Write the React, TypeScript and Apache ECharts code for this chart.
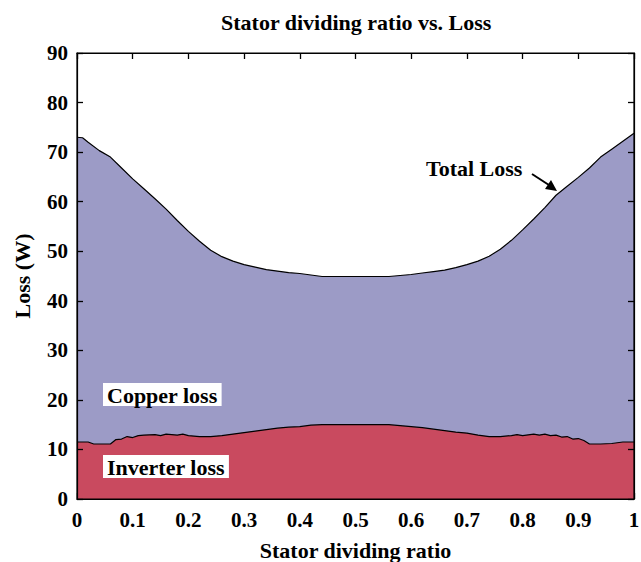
import React, { useEffect, useRef } from "react";
import * as echarts from "echarts";

const totalX = [0, 0.01, 0.02, 0.04, 0.06, 0.08, 0.1, 0.12, 0.14, 0.16, 0.18, 0.2, 0.22, 0.24, 0.26, 0.28, 0.3, 0.32, 0.34, 0.36, 0.38, 0.4, 0.42, 0.44, 0.5, 0.56, 0.58, 0.6, 0.62, 0.64, 0.66, 0.68, 0.7, 0.72, 0.74, 0.76, 0.78, 0.8, 0.82, 0.84, 0.86, 0.88, 0.9, 0.92, 0.94, 0.96, 0.98, 1];
const totalLoss = [73.0, 72.9, 72.0, 70.3, 69.0, 66.8, 64.6, 62.6, 60.6, 58.5, 56.2, 54.0, 52.0, 50.2, 48.9, 48.0, 47.3, 46.8, 46.3, 46.0, 45.7, 45.5, 45.2, 44.9, 44.9, 44.9, 45.1, 45.3, 45.6, 45.9, 46.2, 46.7, 47.3, 48.0, 49.0, 50.4, 52.2, 54.3, 56.5, 58.8, 61.3, 63.1, 64.9, 66.8, 69.0, 70.6, 72.2, 73.8];

const invX = [0, 0.02, 0.03, 0.04, 0.06, 0.07, 0.08, 0.09, 0.1, 0.11, 0.12, 0.14, 0.15, 0.16, 0.18, 0.19, 0.2, 0.22, 0.24, 0.26, 0.28, 0.3, 0.32, 0.34, 0.36, 0.38, 0.4, 0.42, 0.44, 0.5, 0.56, 0.58, 0.6, 0.62, 0.64, 0.66, 0.68, 0.7, 0.72, 0.74, 0.76, 0.78, 0.79, 0.8, 0.82, 0.83, 0.84, 0.85, 0.86, 0.87, 0.88, 0.89, 0.9, 0.91, 0.92, 0.94, 0.96, 0.98, 1];
const inverterLoss = [11.5, 11.5, 11.1, 11.1, 11.1, 12.0, 12.1, 12.6, 12.4, 12.8, 12.9, 13.0, 12.8, 13.1, 12.9, 13.1, 12.8, 12.6, 12.6, 12.8, 13.1, 13.4, 13.7, 14.0, 14.3, 14.5, 14.6, 14.9, 15.0, 15.0, 15.0, 14.8, 14.6, 14.4, 14.1, 13.8, 13.5, 13.3, 12.9, 12.6, 12.6, 12.8, 13.0, 12.8, 13.1, 12.9, 13.1, 12.8, 12.9, 12.5, 12.6, 12.1, 12.2, 11.8, 11.1, 11.1, 11.2, 11.5, 11.5];

const FONT = "'Liberation Serif', 'Times New Roman', serif";

export default function App() {
  const ref = useRef<HTMLDivElement>(null);
  useEffect(() => {
    if (!ref.current) return;
    const chart = echarts.init(ref.current, undefined, { renderer: "svg" });
    const tickLabel = () => ({ fontFamily: FONT, fontWeight: "bold", fontSize: 21, color: "#000" });
    const nameStyle = () => ({ fontFamily: FONT, fontWeight: "bold", fontSize: 22, color: "#000" });
    const axisLine = () => ({ show: true, onZero: false, lineStyle: { color: "#000", width: 1.2 } });
    const axisTick = () => ({ show: true, inside: true, length: 6, lineStyle: { color: "#000", width: 1.3 } });
    chart.setOption({
      animation: false,
      backgroundColor: "#fff",
      title: {
        text: "Stator dividing ratio vs. Loss",
        left: 216,
        top: 6,
        textStyle: { fontFamily: FONT, fontWeight: "bold", fontSize: 22, color: "#000" },
      },
      grid: { left: 77, right: 7, top: 53, bottom: 63, containLabel: false, outerBoundsMode: "none" },
      xAxis: [
        {
          type: "value",
          min: 0,
          max: 1,
          interval: 0.1,
          name: "Stator dividing ratio",
          nameLocation: "middle",
          nameGap: 40,
          nameTextStyle: nameStyle(),
          axisLine: axisLine(),
          axisTick: axisTick(),
          axisLabel: { ...tickLabel(), margin: 10 },
          splitLine: { show: false },
        },
        {
          type: "value",
          position: "top",
          min: 0,
          max: 1,
          interval: 0.1,
          axisLine: axisLine(),
          axisTick: axisTick(),
          axisLabel: { show: false },
          splitLine: { show: false },
          z: 10,
        },
      ],
      yAxis: [
        {
          type: "value",
          min: 0,
          max: 90,
          interval: 10,
          name: "Loss (W)",
          nameLocation: "middle",
          nameGap: 44,
          nameTextStyle: nameStyle(),
          axisLine: axisLine(),
          axisTick: axisTick(),
          axisLabel: { ...tickLabel(), margin: 9 },
          splitLine: { show: false },
          z: 10,
        },
        {
          type: "value",
          position: "right",
          min: 0,
          max: 90,
          interval: 10,
          axisLine: axisLine(),
          axisTick: axisTick(),
          axisLabel: { show: false },
          splitLine: { show: false },
          z: 10,
        },
      ],
      series: [
        {
          type: "line",
          name: "Total Loss",
          data: totalX.map((x, i) => [x, totalLoss[i]]),
          showSymbol: false,
          symbol: "none",
          lineStyle: { color: "#000", width: 1.2 },
          areaStyle: { color: "#9c9bc6", opacity: 1 },
          z: 2,
        },
        {
          type: "line",
          name: "Inverter loss",
          data: invX.map((x, i) => [x, inverterLoss[i]]),
          showSymbol: false,
          symbol: "none",
          lineStyle: { color: "#000", width: 1.2 },
          areaStyle: { color: "#c94a5f", opacity: 1 },
          z: 3,
        },
        {
          type: "line",
          name: "frame",
          xAxisIndex: 1,
          yAxisIndex: 1,
          data: [],
          showSymbol: false,
          symbol: "none",
          silent: true,
        },
      ],
      graphic: [
        {
          type: "rect",
          z: 19,
          silent: true,
          shape: { x: 77, y: 53, width: 557, height: 446 },
          style: { fill: "none", stroke: "#000", lineWidth: 1.2 },
        },
        {
          type: "text",
          x: 103,
          y: 383,
          z: 20,
          style: {
            text: "Copper loss",
            fontFamily: FONT,
            fontWeight: "bold",
            fontSize: 22,
            fill: "#000",
            backgroundColor: "#fff",
            padding: [1, 4, 0, 4],
          },
        },
        {
          type: "text",
          x: 103,
          y: 455,
          z: 20,
          style: {
            text: "Inverter loss",
            fontFamily: FONT,
            fontWeight: "bold",
            fontSize: 22,
            fill: "#000",
            backgroundColor: "#fff",
            padding: [1, 4, 0, 4],
          },
        },
        {
          type: "text",
          x: 426,
          y: 157,
          z: 20,
          style: {
            text: "Total Loss",
            fontFamily: FONT,
            fontWeight: "bold",
            fontSize: 22,
            fill: "#000",
          },
        },
        {
          type: "line",
          z: 20,
          shape: { x1: 532, y1: 174, x2: 552, y2: 187 },
          style: { stroke: "#000", lineWidth: 2 },
        },
        {
          type: "polygon",
          z: 20,
          shape: { points: [[557, 191], [545, 189], [551, 180]] },
          style: { fill: "#000" },
        },
      ],
    });
    return () => chart.dispose();
  }, []);
  return <div ref={ref} style={{ width: 641, height: 562, position: "absolute", left: 0, top: 0 }} />;
}
